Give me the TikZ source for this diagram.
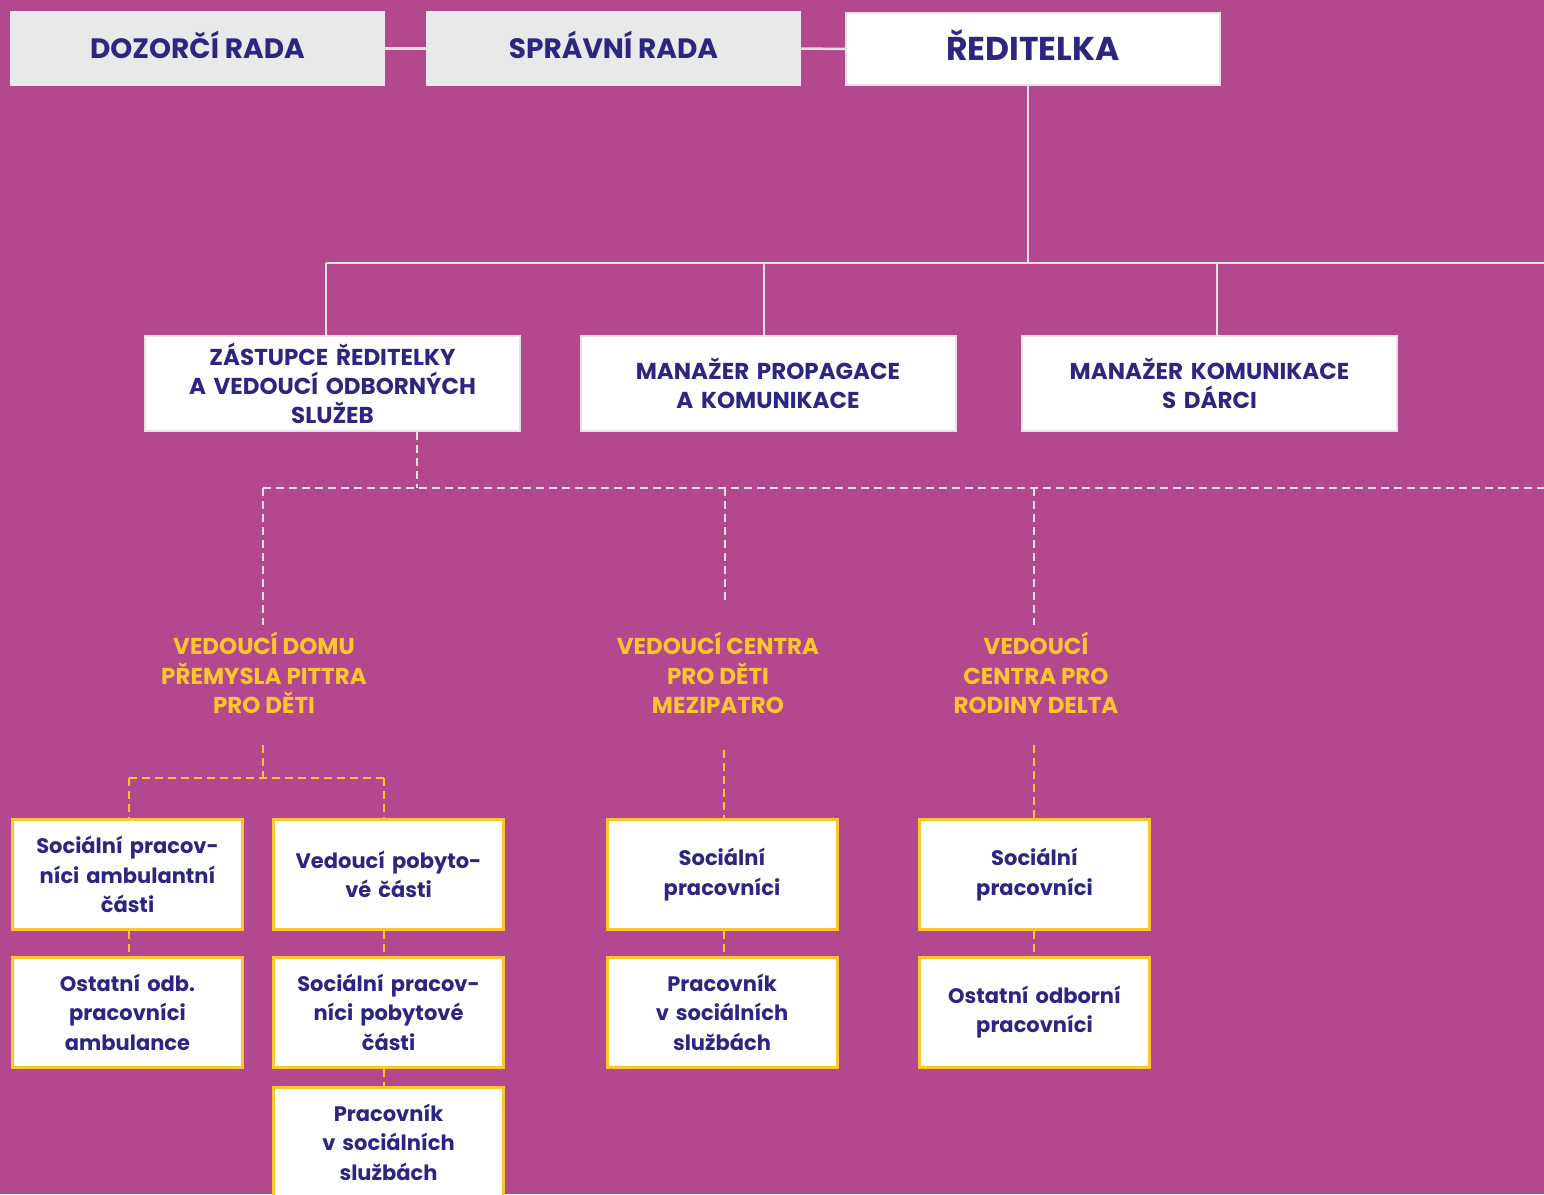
\documentclass[tikz,border=0pt]{standalone}
\usepackage{fontspec}
\setmainfont{Poppins}
\definecolor{bg}{HTML}{B4488F}
\definecolor{navy}{HTML}{2D2582}
\definecolor{ylw}{HTML}{FCC72E}
\definecolor{lgray}{HTML}{E9E9E9}
\definecolor{lline}{HTML}{E2E2E2}
\begin{document}
\begin{tikzpicture}[x=1pt,y=-1pt,
  topbox/.style={fill=lgray, minimum width=375pt, minimum height=75pt, inner sep=0pt,
    text height=19.5pt, text depth=0pt,
    text=navy, font=\fontsize{28}{32}\selectfont\bfseries},
  headbox/.style={fill=white, draw=lline, line width=2pt, minimum width=374pt, minimum height=72pt,
    inner sep=0pt, text height=23pt, text depth=0pt,
    text=navy, font=\fontsize{33}{36}\selectfont\bfseries},
  midbox/.style={fill=white, draw=lline, line width=2pt, minimum width=375pt, minimum height=95pt,
    inner sep=0pt, text width=370pt, align=center, text=navy, font=\fontsize{23}{29.2}\selectfont\bfseries},
  ybox/.style={fill=white, draw=ylw, line width=3pt, minimum width=230pt, minimum height=110pt,
    inner sep=0pt, text width=225pt, align=center, text=navy, font=\fontsize{21}{29.5}\selectfont\bfseries},
  ytitle/.style={inner sep=0pt, align=center, text=ylw, font=\fontsize{23}{29.5}\selectfont\bfseries},
  sline/.style={draw=lline, line width=2.5pt},
  wdash/.style={draw=lline, line width=2.5pt, dash pattern=on 8pt off 5pt},
  ydash/.style={draw=ylw, line width=2.5pt, dash pattern=on 8pt off 5pt}
]
\fill[bg] (0,0) rectangle (1544,1194);
\useasboundingbox (0,0) rectangle (1544,1194);
\clip (0,0) rectangle (1544,1194);

% top row
\node[topbox] (dozor) at (197.5,48.5) {DOZORČÍ RADA};
\node[topbox] (sprav) at (613.5,48.5) {SPRÁVNÍ RADA};
\node[headbox] (redit) at (1033,49) {ŘEDITELKA};

% second row
\node[midbox] (zast) at (332.5,383.5) {ZÁSTUPCE ŘEDITELKY\\A VEDOUCÍ ODBORNÝCH\\SLUŽEB};
\node[midbox] (prop) at (768,383.5) {MANAŽER PROPAGACE\\A KOMUNIKACE};
\node[midbox] (darc) at (1209.5,383.5) {MANAŽER KOMUNIKACE\\S DÁRCI};

% yellow titles
\node[ytitle] (dpp) at (264,673) {VEDOUCÍ DOMU\\PŘEMYSLA PITTRA\\PRO DĚTI};
\node[ytitle] (mez) at (718,673) {VEDOUCÍ CENTRA\\PRO DĚTI\\MEZIPATRO};
\node[ytitle] (delta) at (1036,673) {VEDOUCÍ\\CENTRA PRO\\RODINY DELTA};

% third row
\node[ybox] (a1) at (127.5,874.5) {Sociální pracov-\\níci ambulantní\\části};
\node[ybox] (a2) at (388.5,874.5) {Vedoucí pobyto-\\vé části};
\node[ybox] (b1) at (722,874.5) {Sociální\\pracovníci};
\node[ybox] (c1) at (1034.5,874.5) {Sociální\\pracovníci};

% fourth row
\node[ybox] (a1b) at (127.5,1012) {Ostatní odb.\\pracovníci\\ambulance};
\node[ybox] (a2b) at (388.5,1012) {Sociální pracov-\\níci pobytové\\části};
\node[ybox] (b1b) at (722,1012) {Pracovník\\v sociálních\\službách};
\node[ybox] (c1b) at (1034.5,1012) {Ostatní odborní\\pracovníci};

% fifth row
\node[ybox] (a2c) at (388.5,1142) {Pracovník\\v sociálních\\službách};

% solid connectors
\draw[sline] (dozor.east) -- (sprav.west);
\draw[sline] (sprav.east) -- (redit.west);
\coordinate (hub) at (1028,263);
\coordinate (hl) at (326,263);
\coordinate (hm) at (764,263);
\coordinate (hr) at (1217,263);
\coordinate (hend) at (1550,263);
\draw[sline] (redit.south -| hub) -- (hub);
\draw[sline] (hl) -- (hend);
\draw[sline] (hl) -- (hl |- zast.north);
\draw[sline] (hm) -- (hm |- prop.north);
\draw[sline] (hr) -- (hr |- darc.north);

% white dashed connectors
\coordinate (dz) at (417,488);
\coordinate (dl) at (263,488);
\coordinate (dm) at (725,488);
\coordinate (dr) at (1034,488);
\coordinate (dend) at (1550,488);
\coordinate (dlb) at (263,625);
\coordinate (dmb) at (725,603);
\coordinate (drb) at (1034,625);
\draw[wdash] (zast.south -| dz) -- (dz);
\draw[wdash] (dl) -- (dend);
\draw[wdash] (dl) -- (dlb);
\draw[wdash] (dm) -- (dmb);
\draw[wdash] (dr) -- (drb);

% yellow dashed connectors
\coordinate (yl) at (263,745);
\coordinate (yj) at (263,778);
\coordinate (yjl) at (129,778);
\coordinate (yjr) at (384,778);
\coordinate (ym) at (724,750);
\coordinate (yr) at (1034,745);
\draw[ydash] (yl) -- (yj);
\draw[ydash] (yjl) -- (yjr);
\draw[ydash] (yjl) -- (yjl |- a1.north);
\draw[ydash] (yjr) -- (yjr |- a2.north);
\draw[ydash] (ym) -- (ym |- b1.north);
\draw[ydash] (yr) -- (yr |- c1.north);
\draw[ydash] (a1.south -| yjl) -- (a1b.north -| yjl);
\draw[ydash] (a2.south -| yjr) -- (a2b.north -| yjr);
\draw[ydash] (a2b.south -| yjr) -- (a2c.north -| yjr);
\draw[ydash] (b1.south -| ym) -- (b1b.north -| ym);
\draw[ydash] (c1.south -| yr) -- (c1b.north -| yr);
\end{tikzpicture}
\end{document}
